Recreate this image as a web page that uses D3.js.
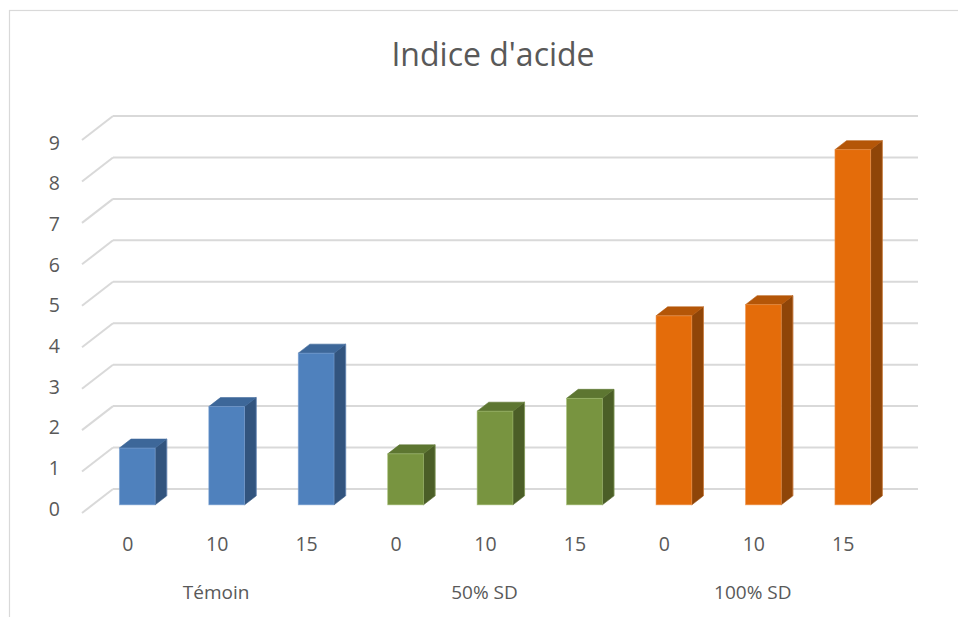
<!DOCTYPE html>
<html>
<head>
<meta charset="utf-8">
<script src="https://cdn.jsdelivr.net/npm/d3@7"></script>
<style>
  html, body { margin: 0; padding: 0; background: #ffffff; }
  svg { display: block; font-family: "Open Sans", "DejaVu Sans", sans-serif; }
</style>
</head>
<body>
<svg id="chart" width="958" height="617"></svg>
<script>
// ---- data ----
const groups = ["Témoin", "50% SD", "100% SD"];
const subLabels = ["0", "10", "15"];
const temoinValues = [1.37, 2.37, 3.66];
const sd50Values = [1.23, 2.26, 2.57];
const sd100Values = [4.56, 4.83, 8.57];
const yTicks = [0, 1, 2, 3, 4, 5, 6, 7, 8, 9];
const title = "Indice d'acide";

const seriesByGroup = [temoinValues, sd50Values, sd100Values];
const faceColors = [
  { front: "#4f81bd", top: "#3d6799", side: "#32547e", edge: "#7ea3d3" },
  { front: "#789440", top: "#5d7631", side: "#4b5e27", edge: "#a3bd71" },
  { front: "#e46c0a", top: "#b45608", side: "#8f4508", edge: "#f09a55" }
];

// flatten to categories
const cats = [];
groups.forEach((g, gi) => subLabels.forEach((s, si) => {
  cats.push({ key: g + "|" + s, group: gi, label: s, value: seriesByGroup[gi][si] });
}));

const svg = d3.select("#chart");

// ---- 3D oblique projection parameters ----
const depthDX = -31, depthDY = 24;   // from back wall (d=0) to front (d=1)
const barFrontD = 0.66, barBackD = 0.285;

const x = d3.scaleBand().domain(cats.map(c => c.key)).range([113, 918]).padding(0);
const y = d3.scaleLinear().domain([0, 9]).range([489, 116]);
const yLabel = d3.scaleLinear().domain([0, 9]).range([508, 142]);

const proj = (px, v, d) => [px + depthDX * d, y(v) + depthDY * d];

// chart border
svg.append("rect")
  .attr("x", 9.5).attr("y", 10.5).attr("width", 970).attr("height", 620)
  .attr("fill", "none").attr("stroke", "#d9d9d9").attr("stroke-width", 1.2);

// title
svg.append("text")
  .attr("x", 493).attr("y", 66)
  .attr("text-anchor", "middle")
  .attr("font-size", 32)
  .attr("fill", "#595959")
  .text(title);

// gridlines: back wall + left wall diagonal
const grid = svg.append("g").attr("stroke", "#d9d9d9").attr("stroke-width", 2).attr("fill", "none");
yTicks.forEach(t => {
  const [bx, by] = proj(x.range()[0], t, 0);
  const [fx, fy] = proj(x.range()[0], t, 1);
  grid.append("line").attr("x1", bx).attr("y1", by).attr("x2", x.range()[1]).attr("y2", by);
  grid.append("line").attr("x1", fx).attr("y1", fy).attr("x2", bx).attr("y2", by);
});

// y labels
svg.append("g").selectAll("text").data(yTicks).join("text")
  .attr("x", 60).attr("y", d => yLabel(d))
  .attr("text-anchor", "end")
  .attr("dominant-baseline", "central")
  .attr("font-size", 19.5)
  .attr("fill", "#595959")
  .text(d => d);

// bars
const barFrac = 0.4;
const bw = x.bandwidth() * barFrac;
const barsG = svg.append("g");
cats.forEach(c => {
  const col = faceColors[c.group];
  const cx = x(c.key) + x.bandwidth() / 2;
  const left = cx - bw / 2, right = cx + bw / 2;
  const fBL = proj(left, 0, barFrontD), fTL = proj(left, c.value, barFrontD);
  const fBR = proj(right, 0, barFrontD), fTR = proj(right, c.value, barFrontD);
  const bTL = proj(left, c.value, barBackD), bTR = proj(right, c.value, barBackD);
  const bBR = proj(right, 0, barBackD);
  const poly = pts => pts.map(p => p.join(",")).join(" ");
  // side face
  barsG.append("polygon").attr("points", poly([fTR, bTR, bBR, fBR]))
    .attr("fill", col.side).attr("stroke", col.side).attr("stroke-width", 0.6);
  // top face
  barsG.append("polygon").attr("points", poly([fTL, bTL, bTR, fTR]))
    .attr("fill", col.top).attr("stroke", col.top).attr("stroke-width", 0.6);
  // front face
  barsG.append("rect")
    .attr("x", fTL[0]).attr("y", fTL[1])
    .attr("width", fTR[0] - fTL[0]).attr("height", fBL[1] - fTL[1])
    .attr("fill", col.front).attr("stroke", col.edge).attr("stroke-width", 0.8).attr("stroke-opacity", 0.7);
  // back edge highlight of side face
  barsG.append("line")
    .attr("x1", bTR[0]).attr("y1", bTR[1]).attr("x2", bBR[0]).attr("y2", bBR[1])
    .attr("stroke", col.edge).attr("stroke-width", 0.8).attr("stroke-opacity", 0.6);
});

// x sub labels (front edge)
svg.append("g").selectAll("text").data(cats).join("text")
  .attr("x", d => proj(x(d.key) + x.bandwidth() / 2, 0, 1)[0] + 1)
  .attr("y", 551)
  .attr("text-anchor", "middle")
  .attr("font-size", 19.5)
  .attr("fill", "#595959")
  .text(d => d.label);

// group labels
svg.append("g").selectAll("text").data(groups).join("text")
  .attr("x", (g, gi) => {
    const mid = cats.filter(c => c.group === gi)[1];
    return proj(x(mid.key) + x.bandwidth() / 2, 0, 1)[0];
  })
  .attr("y", 599)
  .attr("text-anchor", "middle")
  .attr("font-size", 19)
  .attr("fill", "#595959")
  .text(g => g);
</script>
</body>
</html>
